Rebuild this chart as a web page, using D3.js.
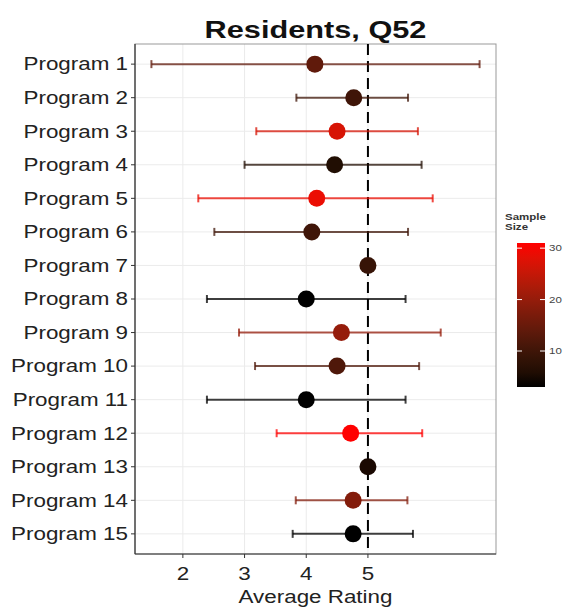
<!DOCTYPE html>
<html>
<head>
<meta charset="utf-8">
<script src="https://cdnjs.cloudflare.com/ajax/libs/d3/7.8.5/d3.min.js"></script>
<style>
  body { margin: 0; background: #fff; }
  svg { font-family: "Liberation Sans", Arial, sans-serif; }
</style>
</head>
<body>
<svg width="564" height="609"></svg>
<script>
// data
const programs = ["Program 1", "Program 2", "Program 3", "Program 4", "Program 5",
  "Program 6", "Program 7", "Program 8", "Program 9", "Program 10",
  "Program 11", "Program 12", "Program 13", "Program 14", "Program 15"];
const means   = [4.14, 4.77, 4.50, 4.46, 4.17, 4.09, 5.00, 4.00, 4.57, 4.50, 4.00, 4.72, 5.00, 4.76, 4.76];
const lowers  = [1.49, 3.84, 3.19, 3.00, 2.25, 2.51, null, 2.39, 2.91, 3.17, 2.39, 3.52, null, 3.83, 3.78];
const uppers  = [6.81, 5.65, 5.81, 5.87, 6.05, 5.65, null, 5.61, 6.18, 5.83, 5.61, 5.88, null, 5.64, 5.73];
const sampleSizes = [14, 10, 27, 6, 29, 10, 9, 3, 20, 12, 3, 31, 5, 18, 3];
const xTicks = [2, 3, 4, 5];
const legendTicks = [10, 20, 30];

const rows = programs.map((p, i) => ({
  name: p, mean: means[i], lo: lowers[i], hi: uppers[i], n: sampleSizes[i]
}));

const svg = d3.select("svg");
const panel = { left: 135, right: 496, top: 44, bottom: 554 };
const stretch = 1.28; // the picture's text is wider than it is tall

// place text at (x,y) with the horizontal stretch
function place(sel, fx, fy) {
  sel.attr("transform", (d, i) => `translate(${fx(d, i)},${fy(d, i)}) scale(${stretch},1)`);
  return sel;
}

// ggplot-like 5% expansion of the continuous axis
const allX = rows.flatMap(d => [d.mean, d.lo, d.hi]).filter(v => v != null);
const [xmin, xmax] = d3.extent(allX);
const pad = (xmax - xmin) * 0.05;
const x = d3.scaleLinear().domain([xmin - pad, xmax + pad]).range([panel.left, panel.right]);

// discrete axis: 0.6 unit padding each side
const y = d3.scaleLinear().domain([0.4, programs.length + 0.6]).range([panel.top, panel.bottom]);

const color = d3.scaleLinear()
  .domain(d3.extent(sampleSizes))
  .range(["#000000", "#ff0000"])
  .interpolate(d3.interpolateLab);

// grid
const g = svg.append("g");
g.selectAll("line.vgrid").data(xTicks).join("line")
  .attr("x1", d => x(d)).attr("x2", d => x(d))
  .attr("y1", panel.top).attr("y2", panel.bottom)
  .attr("stroke", "#ebebeb").attr("stroke-width", 1);
g.selectAll("line.hgrid").data(programs).join("line")
  .attr("x1", panel.left).attr("x2", panel.right)
  .attr("y1", (d, i) => y(i + 1)).attr("y2", (d, i) => y(i + 1))
  .attr("stroke", "#ebebeb").attr("stroke-width", 1);

// panel border
g.append("rect")
  .attr("x", panel.left).attr("y", panel.top)
  .attr("width", panel.right - panel.left).attr("height", panel.bottom - panel.top)
  .attr("fill", "none").attr("stroke", "#999").attr("stroke-width", 1);

// reference line at 5
g.append("line")
  .attr("x1", x(5)).attr("x2", x(5))
  .attr("y1", panel.top).attr("y2", panel.bottom)
  .attr("stroke", "#000").attr("stroke-width", 2)
  .attr("stroke-dasharray", "11,6");

// error bars
const bars = rows.map((d, i) => ({ ...d, i })).filter(d => d.lo != null);
const eb = g.selectAll("g.eb").data(bars).join("g")
  .attr("stroke", d => color(d.n)).attr("stroke-opacity", 0.75).attr("stroke-width", 2);
eb.append("line")
  .attr("x1", d => x(d.lo)).attr("x2", d => x(d.hi))
  .attr("y1", d => y(d.i + 1)).attr("y2", d => y(d.i + 1));
eb.append("line")
  .attr("x1", d => x(d.lo)).attr("x2", d => x(d.lo))
  .attr("y1", d => y(d.i + 1) - 4).attr("y2", d => y(d.i + 1) + 4);
eb.append("line")
  .attr("x1", d => x(d.hi)).attr("x2", d => x(d.hi))
  .attr("y1", d => y(d.i + 1) - 4).attr("y2", d => y(d.i + 1) + 4);

// points
g.selectAll("circle.pt").data(rows).join("circle")
  .attr("cx", d => x(d.mean)).attr("cy", (d, i) => y(i + 1))
  .attr("r", 8.5).attr("fill", d => color(d.n));

// axis lines (left and bottom darker)
g.append("line").attr("x1", panel.left).attr("x2", panel.left)
  .attr("y1", panel.top).attr("y2", panel.bottom).attr("stroke", "#333").attr("stroke-width", 1.2);
g.append("line").attr("x1", panel.left).attr("x2", panel.right)
  .attr("y1", panel.bottom).attr("y2", panel.bottom).attr("stroke", "#333").attr("stroke-width", 1.2);

// y axis labels
const yAxis = svg.append("g");
yAxis.selectAll("line").data(programs).join("line")
  .attr("x1", panel.left - 4).attr("x2", panel.left)
  .attr("y1", (d, i) => y(i + 1)).attr("y2", (d, i) => y(i + 1))
  .attr("stroke", "#333");
place(yAxis.selectAll("text").data(programs).join("text"),
    () => panel.left - 7, (d, i) => y(i + 1))
  .attr("dy", "0.36em").attr("text-anchor", "end")
  .attr("font-size", 17.5).attr("fill", "#222")
  .text(d => d);

// x axis labels
const xAxis = svg.append("g");
xAxis.selectAll("line").data(xTicks).join("line")
  .attr("x1", d => x(d)).attr("x2", d => x(d))
  .attr("y1", panel.bottom).attr("y2", panel.bottom + 4)
  .attr("stroke", "#333");
place(xAxis.selectAll("text").data(xTicks).join("text"),
    d => x(d), () => panel.bottom + 26)
  .attr("text-anchor", "middle").attr("font-size", 17.5).attr("fill", "#222")
  .text(d => d);
svg.append("text")
  .attr("transform", `translate(${(panel.left + panel.right) / 2},603) scale(${stretch},1)`)
  .attr("text-anchor", "middle").attr("font-size", 17.5).attr("fill", "#222")
  .text("Average Rating");

// title
svg.append("text")
  .attr("transform", `translate(${(panel.left + panel.right) / 2},38) scale(${stretch},1)`)
  .attr("text-anchor", "middle").attr("font-size", 24).attr("font-weight", "bold")
  .attr("fill", "#111")
  .text("Residents, Q52");

// legend
const leg = { x: 517, w: 28, top: 243, bottom: 387 };
const ly = d3.scaleLinear().domain(d3.extent(sampleSizes)).range([leg.bottom, leg.top]);
const defs = svg.append("defs");
const grad = defs.append("linearGradient").attr("id", "lg")
  .attr("x1", 0).attr("y1", 1).attr("x2", 0).attr("y2", 0);
d3.range(0, 1.001, 0.1).forEach(t => {
  grad.append("stop").attr("offset", t)
    .attr("stop-color", color(ly.domain()[0] + t * (ly.domain()[1] - ly.domain()[0])));
});
svg.append("rect").attr("x", leg.x).attr("y", leg.top)
  .attr("width", leg.w).attr("height", leg.bottom - leg.top)
  .attr("fill", "url(#lg)");
svg.selectAll("line.lt").data(legendTicks).join("line")
  .attr("x1", leg.x).attr("x2", leg.x + 5)
  .attr("y1", d => ly(d)).attr("y2", d => ly(d))
  .attr("stroke", "#fff").attr("stroke-width", 1);
svg.selectAll("line.rt").data(legendTicks).join("line")
  .attr("x1", leg.x + leg.w - 5).attr("x2", leg.x + leg.w)
  .attr("y1", d => ly(d)).attr("y2", d => ly(d))
  .attr("stroke", "#fff").attr("stroke-width", 1);
place(svg.selectAll("text.ll").data(legendTicks).join("text"),
    () => leg.x + leg.w + 4, d => ly(d))
  .attr("dy", "0.36em").attr("font-size", 9).attr("fill", "#444")
  .text(d => d);
svg.append("text")
  .attr("transform", `translate(${leg.x - 12},220) scale(${stretch},1)`)
  .attr("font-size", 9).attr("font-weight", "bold").attr("fill", "#333")
  .selectAll("tspan").data(["Sample", "Size"]).join("tspan")
  .attr("x", 0).attr("dy", (d, i) => i ? 10 : 0)
  .text(d => d);
</script>
</body>
</html>
